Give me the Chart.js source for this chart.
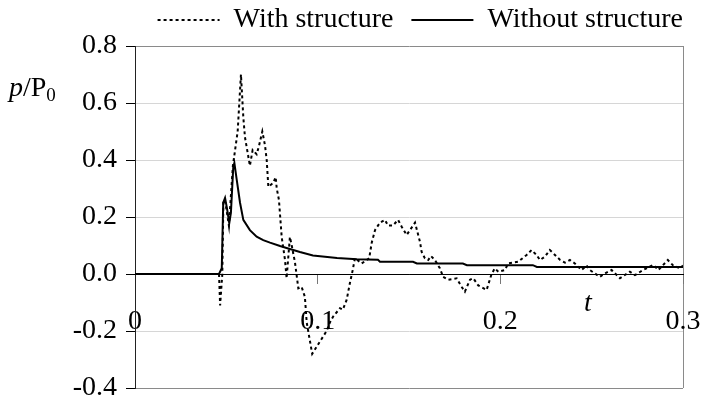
<!DOCTYPE html>
<html>
<head>
<meta charset="utf-8">
<script src="https://cdn.jsdelivr.net/npm/chart.js@4.4.1/dist/chart.umd.min.js"></script>
<style>
  html, body { margin: 0; padding: 0; background: #ffffff; }
  #chart { display: block; }
</style>
</head>
<body>
<canvas id="chart" width="701" height="402"></canvas>
<script>
// Series names
const seriesNames = ['With structure', 'Without structure'];

// Pressure history with the structure in place (t, p/P0)
const timeWith = [
    0, 0.046, 0.0466, 0.0478, 0.0484, 0.0495, 0.0514, 0.0536, 0.0562, 0.058,
    0.0593, 0.0602, 0.0629, 0.0644, 0.0666, 0.0679, 0.0697, 0.0712, 0.0721, 0.073,
    0.0757, 0.077, 0.0776, 0.0788, 0.0803, 0.0821, 0.083, 0.0848, 0.0858, 0.0876,
    0.0894, 0.0912, 0.093, 0.094, 0.097, 0.1049, 0.1067, 0.1084, 0.1122, 0.1138,
    0.1159, 0.1177, 0.1192, 0.1204, 0.1241, 0.1282, 0.1296, 0.1314, 0.1341, 0.1368,
    0.1385, 0.1412, 0.144, 0.146, 0.1487, 0.1533, 0.156, 0.1569, 0.1587, 0.1605,
    0.162, 0.1642, 0.1669, 0.1687, 0.1715, 0.1761, 0.1788, 0.1806, 0.1834, 0.1852,
    0.1879, 0.1925, 0.1952, 0.197, 0.1989, 0.2025, 0.2043, 0.2098, 0.2144, 0.2171,
    0.2198, 0.2217, 0.2244, 0.2271, 0.2299, 0.2326, 0.2354, 0.2381, 0.2408, 0.2445,
    0.2472, 0.249, 0.2545, 0.2573, 0.2609, 0.2655, 0.2709, 0.2737, 0.2782, 0.2837,
    0.2865, 0.2917, 0.2946, 0.2983, 0.3
];
const pWith = [
    0, 0, -0.11, 0.0, 0.26, 0.25, 0.17, 0.38, 0.50, 0.70,
    0.55, 0.48, 0.38, 0.435, 0.42, 0.45, 0.50, 0.45, 0.40, 0.306,
    0.32, 0.34, 0.30, 0.26, 0.13, 0.05, -0.015, 0.13, 0.10, 0.04,
    -0.05, -0.045, -0.08, -0.17, -0.28, -0.2, -0.17, -0.15, -0.12, -0.125,
    -0.09, -0.03, 0.014, 0.056, 0.037, 0.055, 0.11, 0.154, 0.18, 0.19,
    0.17, 0.17, 0.19, 0.166, 0.137, 0.18, 0.113, 0.078, 0.055, 0.049,
    0.063, 0.049, 0.02, -0.01, -0.02, -0.015, -0.045, -0.062, -0.02, -0.015,
    -0.04, -0.056, 0.0, 0.02, 0.008, 0.014, 0.037, 0.043, 0.067, 0.084,
    0.067, 0.049, 0.061, 0.084, 0.067, 0.05, 0.04, 0.049, 0.037, 0.014,
    0.03, 0.014, -0.01, 0.002, 0.014, -0.015, 0.008, -0.004, 0.014, 0.032,
    0.014, 0.049, 0.03, 0.02, 0.03
];

// Pressure history without the structure (t, p/P0)
const timeWithout = [
    0, 0.046, 0.0475, 0.0483, 0.0493, 0.0505, 0.0516, 0.0525, 0.0538, 0.0544,
    0.0557, 0.0575, 0.0593, 0.0629, 0.0666, 0.0702, 0.0739, 0.0794, 0.0848, 0.0903,
    0.0974, 0.1106, 0.1215, 0.1330, 0.1341, 0.1522, 0.1543, 0.1795, 0.1817, 0.2178,
    0.2200, 0.3
];
const pWithout = [
    0, 0, 0.02, 0.25, 0.267, 0.225, 0.178, 0.214, 0.376, 0.39,
    0.33, 0.25, 0.19, 0.154, 0.131, 0.119, 0.11, 0.098, 0.088, 0.077,
    0.065, 0.056, 0.052, 0.05, 0.043, 0.043, 0.037, 0.037, 0.031, 0.031,
    0.025, 0.025
];

// Axis ticks
const xTicks = [0, 0.1, 0.2, 0.3];
const yTicks = [-0.4, -0.2, 0.0, 0.2, 0.4, 0.6, 0.8];

const serif = '"Liberation Serif", "Times New Roman", serif';
const labelFont = { family: serif, size: 28 };
const frameGray = '#8a8a8a';
const gridGray = '#d6d6d6';

const toPoints = (xs, ys) => xs.map((x, i) => ({ x: x, y: ys[i] }));

// Push the plot frame a couple of pixels below the legend row
const legendSpacing = {
    id: 'legendSpacing',
    beforeInit(chart) {
        const fit = chart.legend.fit;
        chart.legend.fit = function () {
            fit.call(this);
            this.height += 2;
        };
    }
};

// Axis titles: p/P0 at the top left, t next to the time axis
const axisTitles = {
    id: 'axisTitles',
    afterDraw(chart) {
        const ctx = chart.ctx;
        ctx.save();
        ctx.fillStyle = '#000';
        ctx.textBaseline = 'alphabetic';
        ctx.textAlign = 'left';

        let x = 9;
        const y = 96;
        ctx.font = 'italic 28px ' + serif;
        ctx.fillText('p', x, y);
        x += ctx.measureText('p').width;
        ctx.font = '28px ' + serif;
        ctx.fillText('/P', x, y);
        x += ctx.measureText('/P').width;
        ctx.font = '19px ' + serif;
        ctx.fillText('0', x, y + 5);

        ctx.font = 'italic 28px ' + serif;
        ctx.fillText('t', 584, 311);
        ctx.restore();
    }
};

const ctx = document.getElementById('chart').getContext('2d');
new Chart(ctx, {
    type: 'line',
    data: {
        datasets: [{
            label: seriesNames[0],
            data: toPoints(timeWith, pWith),
            borderColor: '#000',
            backgroundColor: '#000',
            borderWidth: 2,
            borderDash: [3, 3],
            pointRadius: 0,
            tension: 0
        }, {
            label: seriesNames[1],
            data: toPoints(timeWithout, pWithout),
            borderColor: '#000',
            backgroundColor: '#000',
            borderWidth: 2,
            pointRadius: 0,
            tension: 0
        }]
    },
    options: {
        responsive: false,
        animation: false,
        devicePixelRatio: 1,
        layout: { padding: { left: 0, right: 0, top: -12, bottom: 14 } },
        plugins: {
            legend: {
                align: 'end',
                labels: {
                    usePointStyle: true,
                    pointStyle: 'line',
                    pointStyleWidth: 62,
                    font: labelFont,
                    color: '#000',
                    padding: 18,
                    // point-style items lose the dash pattern, so copy it from the dataset
                    generateLabels: chart => {
                        const items = Chart.defaults.plugins.legend.labels.generateLabels(chart);
                        items.forEach(item => {
                            item.lineDash = chart.data.datasets[item.datasetIndex].borderDash || [];
                            item.lineWidth = 2;
                        });
                        return items;
                    }
                }
            },
            tooltip: { enabled: false }
        },
        scales: {
            x: {
                type: 'linear',
                min: 0,
                max: 0.3,
                position: { y: 0 },
                afterBuildTicks: s => { s.ticks = xTicks.map(v => ({ value: v })); },
                afterFit: s => { s.paddingLeft = 0; s.paddingRight = 18; },
                ticks: {
                    font: labelFont,
                    color: '#000',
                    padding: 22,
                    maxRotation: 0,
                    autoSkip: false,
                    callback: v => v === 0 ? '0' : v.toFixed(1)
                },
                grid: {
                    color: c => (c.tick && c.tick.value === 0.3) ? frameGray : 'rgba(0,0,0,0)',
                    tickColor: '#777',
                    tickLength: 9
                },
                border: { color: '#000', width: 1 }
            },
            y: {
                min: -0.4,
                max: 0.8,
                afterBuildTicks: s => { s.ticks = yTicks.map(v => ({ value: v })); },
                afterFit: s => {
                    s.width = 135;
                    s.paddingTop = 0;
                    s.paddingBottom = 0;
                },
                ticks: {
                    font: labelFont,
                    color: '#000',
                    padding: 9,
                    callback: v => v.toFixed(1)
                },
                grid: {
                    color: c => {
                        const v = c.tick ? c.tick.value : null;
                        if (v === 0.8 || v === -0.4) return frameGray;
                        if (v === 0) return '#000';
                        return gridGray;
                    },
                    tickColor: '#000',
                    tickLength: 9
                },
                border: { color: '#222', width: 1 }
            }
        }
    },
    plugins: [legendSpacing, axisTitles]
});
</script>
</body>
</html>
